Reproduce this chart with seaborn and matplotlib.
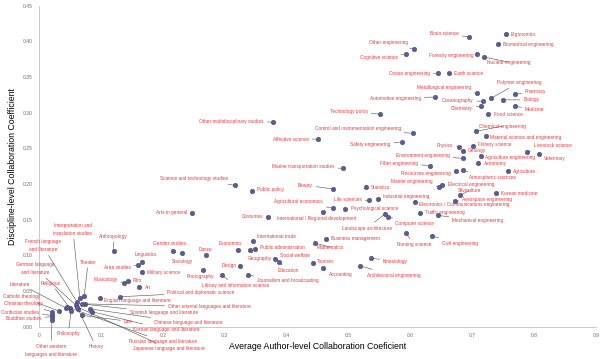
import matplotlib
matplotlib.use("Agg")
import matplotlib.pyplot as plt
import seaborn as sns
import pandas as pd

# data
disciplines = [
    "Brain science", "Ergonomics", "Biomedical engineering", "Forestry engineering",
    "Nuclear engineering", "Ocean engineering", "Earth science", "Other engineering",
    "Cognitive science", "Metallurgical engineering", "Automotive engineering",
    "Oceanography", "Chemistry", "Polymer engineering", "Pharmacy", "Biology",
    "Medicine", "Food science", "Technology policy", "Other multidisciplinary studies",
    "Control and instrumentation engineering", "Affective science", "Safety engineering",
    "Chemical engineering", "Material science and engineering", "Physics", "Geology",
    "Fishery science", "Environment engineering", "Agriculture engineering", "Astronomy",
    "Fiber engineering", "Resources engineering", "Atmospheric sciences", "Agriculture",
    "Livestock science", "Veterinary", "Marine engineering", "Electrical engineering",
    "Silviculture", "Korean medicine", "Aerospace engineering",
    "Electronics / Communications engineering", "Traffic engineering",
    "Mechanical engineering", "Industrial engineering", "Life sciences", "Statistics",
    "Beauty", "Marine transportation studies", "Psychological science",
    "Agricultural economics", "International / Regional development",
    "Landscape architecture", "Computer science", "Nursing science", "Civil engineering",
    "Business management", "Mathematics", "Kinesiology", "Tourism", "Accounting",
    "Architectural engineering", "Science and technology studies", "Public policy",
    "Costumes", "Arts in general", "International trade", "Economics", "Geography",
    "Public administration", "Social welfare", "Education", "Dance", "Design",
    "Photography", "Library and information science", "Journalism and broadcasting",
    "Gender studies", "Sociology", "Linguistics", "Area studies", "Military science",
    "Musicology", "Film", "Art", "Anthropology", "Political and diplomatic science",
    "English language and literature", "Theater",
    "Interpretation and\ntranslation studies", "French language\nand literature",
    "Other oriental languages and literature", "Spanish language and literature",
    "German language\nand literature", "Religious", "Literature", "Philosophy", "History",
    "Japanese language and literature", "Law", "Chinese language and literature",
    "Korean language and literature", "Russian language and literature",
    "Catholic theology", "Christian theology", "Confucian studies", "Buddhist studies",
    "Other western\nlanguages and literature",
]

author_coef = [
    0.695, 0.754, 0.742, 0.708, 0.719, 0.645, 0.662, 0.606, 0.593, 0.708, 0.640,
    0.717, 0.714, 0.730, 0.769, 0.750, 0.769, 0.725, 0.551, 0.378, 0.604, 0.451,
    0.586, 0.706, 0.722, 0.679, 0.685, 0.701, 0.685, 0.714, 0.709, 0.632, 0.674,
    0.685, 0.758, 0.788, 0.808, 0.646, 0.651, 0.680, 0.738, 0.672, 0.607, 0.616,
    0.645, 0.548, 0.533, 0.528, 0.475, 0.491, 0.494, 0.475, 0.459, 0.559, 0.564,
    0.593, 0.635, 0.464, 0.446, 0.536, 0.443, 0.459, 0.519, 0.317, 0.344, 0.370,
    0.247, 0.346, 0.321, 0.341, 0.349, 0.381, 0.388, 0.270, 0.325, 0.265, 0.296,
    0.338, 0.216, 0.231, 0.166, 0.160, 0.166, 0.137, 0.144, 0.162, 0.121, 0.131,
    0.099, 0.073, 0.066, 0.061, 0.074, 0.069, 0.060, 0.050, 0.044, 0.052, 0.063,
    0.061, 0.069, 0.082, 0.086, 0.045, 0.032, 0.021, 0.021, 0.021, 0.021,
]

discipline_coef = [
    0.406, 0.411, 0.397, 0.383, 0.378, 0.355, 0.355, 0.389, 0.382, 0.327, 0.322,
    0.316, 0.309, 0.320, 0.326, 0.318, 0.309, 0.298, 0.298, 0.287, 0.271, 0.263,
    0.259, 0.274, 0.267, 0.252, 0.247, 0.254, 0.236, 0.239, 0.229, 0.226, 0.218,
    0.219, 0.218, 0.245, 0.242, 0.196, 0.198, 0.184, 0.187, 0.176, 0.175, 0.159,
    0.156, 0.179, 0.177, 0.196, 0.193, 0.222, 0.165, 0.166, 0.161, 0.158, 0.154,
    0.131, 0.127, 0.123, 0.117, 0.096, 0.089, 0.082, 0.085, 0.198, 0.190, 0.154,
    0.159, 0.120, 0.107, 0.107, 0.109, 0.095, 0.091, 0.100, 0.085, 0.079, 0.072,
    0.072, 0.106, 0.103, 0.091, 0.086, 0.077, 0.061, 0.064, 0.056, 0.106, 0.042,
    0.040, 0.043, 0.040, 0.035, 0.032, 0.032, 0.030, 0.026, 0.026, 0.022, 0.025,
    0.028, 0.016, 0.025, 0.021, 0.028, 0.022, 0.021, 0.016, 0.014, 0.009,
]

x_ticks = [0, 0.1, 0.2, 0.3, 0.4, 0.5, 0.6, 0.7, 0.8, 0.9]
x_tick_labels = ["0", "0.1", "0.2", "0.3", "0.4", "0.5", "0.6", "0.7", "0.8", "0.9"]
y_ticks = [0, 0.05, 0.10, 0.15, 0.20, 0.25, 0.30, 0.35, 0.40, 0.45]
y_tick_labels = ["0.00", "0.05", "0.10", "0.15", "0.20", "0.25", "0.30", "0.35", "0.40", "0.45"]

# label placement: offset in pixels from the point (dx, dy up) and alignment
label_layout = [
    (-10, 4, "right"), (5, -1, "left"), (5, -1, "left"), (-4, -2, "right"),
    (3, -5, "left"), (-8, 0, "right"), (5, 0, "left"), (-6, 7, "right"),
    (-8, -3, "right"), (-6, 6, "right"), (-14, -1, "right"),
    (-9, 1, "right"), (-8, -2, "right"), (6, 16, "left"), (10, 3, "left"), (20, 0, "left"),
    (10, -3, "left"), (6, 0, "left"), (-12, 3, "right"), (-9, 0, "right"),
    (-12, 5, "right"), (-9, 0, "right"), (-11, -3, "right"),
    (3, 5, "left"), (4, -1, "left"), (-6, 1, "right"), (5, 0, "left"),
    (5, 1, "left"), (-13, 3, "right"), (4, -1, "left"), (6, 0, "left"),
    (-12, 2, "right"), (-5, -2, "right"), (6, -7, "left"), (5, 0, "left"),
    (7, 6, "left"), (5, -4, "left"), (-6, 5, "right"), (6, 1, "left"),
    (-2, 5, "left"), (5, 0, "left"), (7, 2, "left"),
    (4, -3, "left"), (5, 1, "left"),
    (14, -5, "left"), (5, 3, "left"), (-7, 1, "right"), (5, -1, "left"),
    (-20, 4, "right"), (-8, 2, "right"), (6, 1, "left"),
    (-10, 7, "right"), (-6, -7, "center"),
    (-18, -14, "center"), (7, -7, "left"), (-9, -11, "left"), (10, -7, "left"),
    (5, 0, "left"), (2, -4, "left"), (12, -3, "left"), (4, 2, "left"), (6, -6, "left"),
    (7, -9, "left"), (-7, 7, "right"), (5, 2, "left"),
    (-5, 0, "right"), (-5, 1, "right"), (4, 5, "left"), (-7, 7, "center"), (10, -8, "center"),
    (5, 1, "left"), (5, 3, "left"), (9, -9, "center"), (-1, 6, "center"), (-4, 1, "right"),
    (-3, -6, "center"), (13, -10, "center"), (9, -5, "left"),
    (-3, 8, "center"), (0, -8, "center"), (4, 7, "center"), (-7, -2, "right"), (5, -1, "left"),
    (-6, 4, "right"), (5, 1, "left"), (6, -1, "left"), (-1, 15, "center"), (47, 4, "left"),
    (4, -2, "left"), (4, 34, "center"),
    (-7, 69, "center"), (-34, 56, "center"),
    (83, -3, "left"), (48, -9, "left"),
    (-41, 37, "center"), (-19, 25, "center"), (-46, 24, "center"), (-3, -23, "center"), (18, -38, "center"),
    (56, -42, "left"), (42, -6, "left"), (64, -14, "left"),
    (41, -18, "left"), (62, -35, "left"),
    (-37, 14, "center"), (-29, 8, "center"), (-32, 3, "center"), (-28, -2, "center"),
    (-1, -30, "center"),
]

df = pd.DataFrame({"discipline": disciplines, "author": author_coef, "disc": discipline_coef})

sns.set_style("white")
plt.rcParams["font.family"] = ["Liberation Sans", "DejaVu Sans"]

fig, ax = plt.subplots(figsize=(6, 3.59), dpi=100)
fig.subplots_adjust(left=0.065, right=0.9933, bottom=0.09, top=0.984)

sns.scatterplot(data=df, x="author", y="disc", ax=ax, s=11, color="#5d5d96",
                edgecolor="#3f3f70", linewidth=0.3, zorder=3)

# red labels with grey leader lines
for i, row in df.iterrows():
    dx, dy, ha = label_layout[i]
    ax.annotate(row["discipline"], xy=(row["author"], row["disc"]),
                xytext=(dx, dy), textcoords="offset pixels",
                ha=ha, va="center", fontsize=3.45, color="#e8383d",
                linespacing=1.7, multialignment="center",
                arrowprops=dict(arrowstyle="-", color="#4d4d4d", lw=0.4,
                                shrinkA=0, shrinkB=1.5))

ax.set_xlim(0, 0.9)
ax.set_ylim(0, 0.45)
ax.set_xticks(x_ticks)
ax.set_xticklabels(x_tick_labels)
ax.set_yticks(y_ticks)
ax.set_yticklabels(y_tick_labels)
ax.tick_params(axis="both", length=2.5, width=0.5, color="#b0b0b0",
               labelsize=3.6, labelcolor="#707070", pad=2)

sns.despine(ax=ax)
for side in ["left", "bottom"]:
    ax.spines[side].set_color("#c0c0c0")
    ax.spines[side].set_linewidth(0.6)

ax.set_xlabel("Average Author-level Collaboration Coeficient", fontsize=6.3, color="#000000")
ax.set_ylabel("Discipline-level Collaboration Coefficient", fontsize=6.3, color="#000000")
ax.xaxis.set_label_coords(0.5, -0.063)
ax.xaxis.label.set_va("center")
ax.yaxis.set_label_coords(-0.047, 0.5)
ax.yaxis.label.set_va("center")

plt.savefig("out.png", dpi=100)
